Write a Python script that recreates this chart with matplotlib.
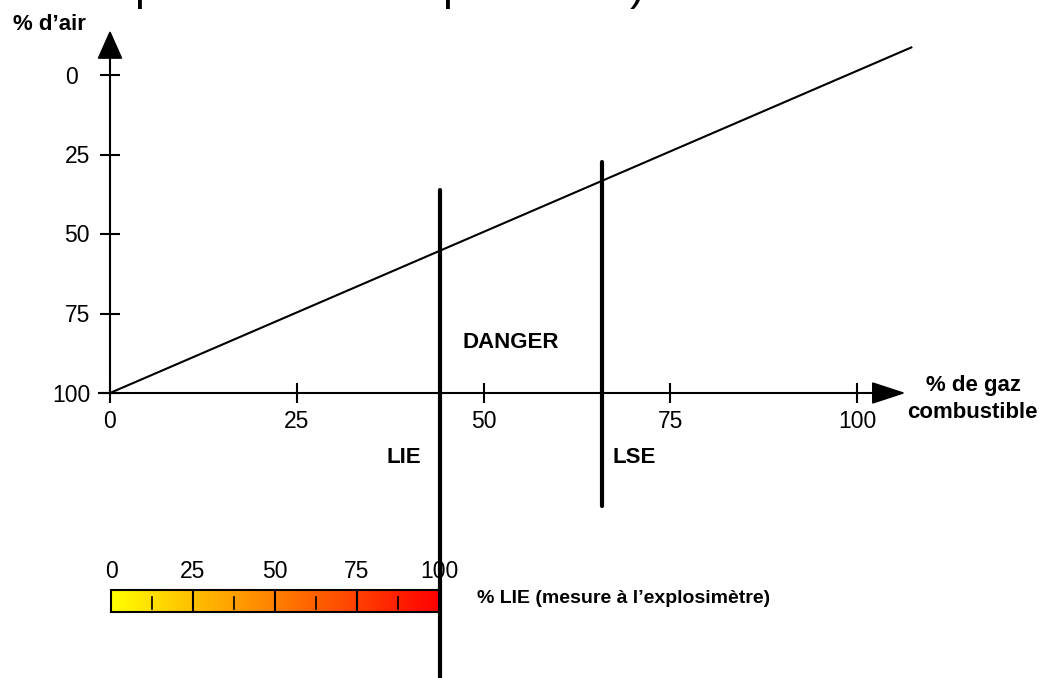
import numpy as np
import matplotlib
matplotlib.use("Agg")
import matplotlib.pyplot as plt
from matplotlib.colors import LinearSegmentedColormap

plt.rcParams['font.family'] = ['Liberation Sans', 'DejaVu Sans']

# ---- data ----
axis_ticks = [0, 25, 50, 75, 100]
x_tick_labels = ["0", "25", "50", "75", "100"]
y_tick_labels = ["0", "25", "50", "75", "100"]
line_x = [0, 107.4]          # % de gaz combustible
line_y = [100, -8.8]         # % d'air
lie_x = 44.2
lie_y = [36.2, 190.0]
lse_x = 65.9
lse_y = [27.4, 135.5]
bar_ticks = [0, 25, 50, 75, 100]
bar_labels = ["0", "25", "50", "75", "100"]
bar_minor = [12.5, 37.5, 62.5, 87.5]
title_frag = ["p", "p", ")"]

DIG = dict(family=['Liberation Sans'], fontsize=16.5)

W, H = 1042, 678
fig = plt.figure(figsize=(W / 100, H / 100), dpi=100)


def rect(x0, y0, x1, y1):
    return [x0 / W, 1 - y1 / H, (x1 - x0) / W, (y1 - y0) / H]


def ftext(x, y, s, **kw):
    fig.text(x / W, 1 - y / H, s, **kw)


# main axes : data (0..100) -> pixels
ax = fig.add_axes(rect(110, 75, 857, 393))
ax.set_xlim(0, 100)
ax.set_ylim(100, 0)
for s in ['top', 'right']:
    ax.spines[s].set_visible(False)
ax.spines['left'].set_position(('data', 0))
ax.spines['bottom'].set_position(('data', 100))
ax.spines['left'].set_bounds(100, -5.3)
ax.spines['bottom'].set_bounds(-1.5, 102.2)
for s in ['left', 'bottom']:
    ax.spines[s].set_linewidth(1.5)
    ax.spines[s].set_clip_on(False)
ax.set_xticks(axis_ticks)
ax.set_xticklabels([])
ax.set_yticks(axis_ticks)
ax.set_yticklabels([])
ax.tick_params(axis='both', direction='inout', length=14.4, width=1.5)
ax.patch.set_visible(False)

for v, lab in zip(axis_ticks, x_tick_labels):
    ax.annotate(lab, (v, 100), xytext=(0, -29), textcoords='offset pixels',
                ha='center', va='center', **DIG)
for v, lab in zip(axis_ticks, y_tick_labels):
    off = -32 if lab == "0" else -20
    ax.annotate(lab, (0, v), xytext=(off, -2), textcoords='offset pixels',
                ha='right', va='center', **DIG)

# arrow heads
ax.fill([102.1, 106.2, 102.1], [96.85, 100, 103.15], color='black', clip_on=False)
ax.fill([-1.55, 0, 1.55], [-5.3, -13.5, -5.3], color='black', clip_on=False)

# diagonal line
ax.plot(line_x, line_y, color='black', lw=1.5, clip_on=False, solid_capstyle='butt')
# LIE / LSE
ax.plot([lie_x, lie_x], lie_y, color='black', lw=3, clip_on=False, solid_capstyle='round')
ax.plot([lse_x, lse_x], lse_y, color='black', lw=3, clip_on=False, solid_capstyle='round')

# texts
ftext(13, 30, "% d\u2019air", fontsize=16, fontweight='bold', va='baseline')
ftext(973, 391, "% de gaz", fontsize=16, fontweight='bold', ha='center', va='baseline')
ftext(972, 418, "combustible", fontsize=16, fontweight='bold', ha='center', va='baseline')
ftext(462, 348, "DANGER", fontsize=16, fontweight='bold', va='baseline')
ftext(387, 463, "LIE", fontsize=16, fontweight='bold', va='baseline')
ftext(612, 463, "LSE", fontsize=16, fontweight='bold', va='baseline')
ftext(477, 603, "% LIE (mesure \u00e0 l\u2019explosim\u00e8tre)", fontsize=14,
      fontweight='bold', va='baseline')

# title fragments cut at top
for xpos, frag in zip([134, 442, 630], title_frag):
    ftext(xpos, 0, frag, fontsize=32, va='baseline')

# gradient bar
ax2 = fig.add_axes(rect(111, 590, 439, 612))
cmap = LinearSegmentedColormap.from_list('lie', ['#FFFF00', '#FF0000'])
grad = np.linspace(0, 100, 512).reshape(1, -1)
ax2.imshow(grad, cmap=cmap, extent=[0, 100, 0, 1], aspect='auto')
ax2.set_xlim(0, 100)
ax2.set_ylim(0, 1)
for s in ax2.spines.values():
    s.set_linewidth(1.5)
for v in bar_ticks[1:-1]:
    ax2.axvline(v, color='black', lw=1.5)
for v in bar_minor:
    ax2.axvline(v, ymin=0.14, ymax=0.68, color='black', lw=1.2)
ax2.set_xticks([])
ax2.set_yticks([])
for v, lab in zip(bar_ticks, bar_labels):
    ax2.annotate(lab, (v, 1), xytext=(0, 18), textcoords='offset pixels',
                 ha='center', va='center', **DIG)

fig.savefig("out.png", dpi=100)
